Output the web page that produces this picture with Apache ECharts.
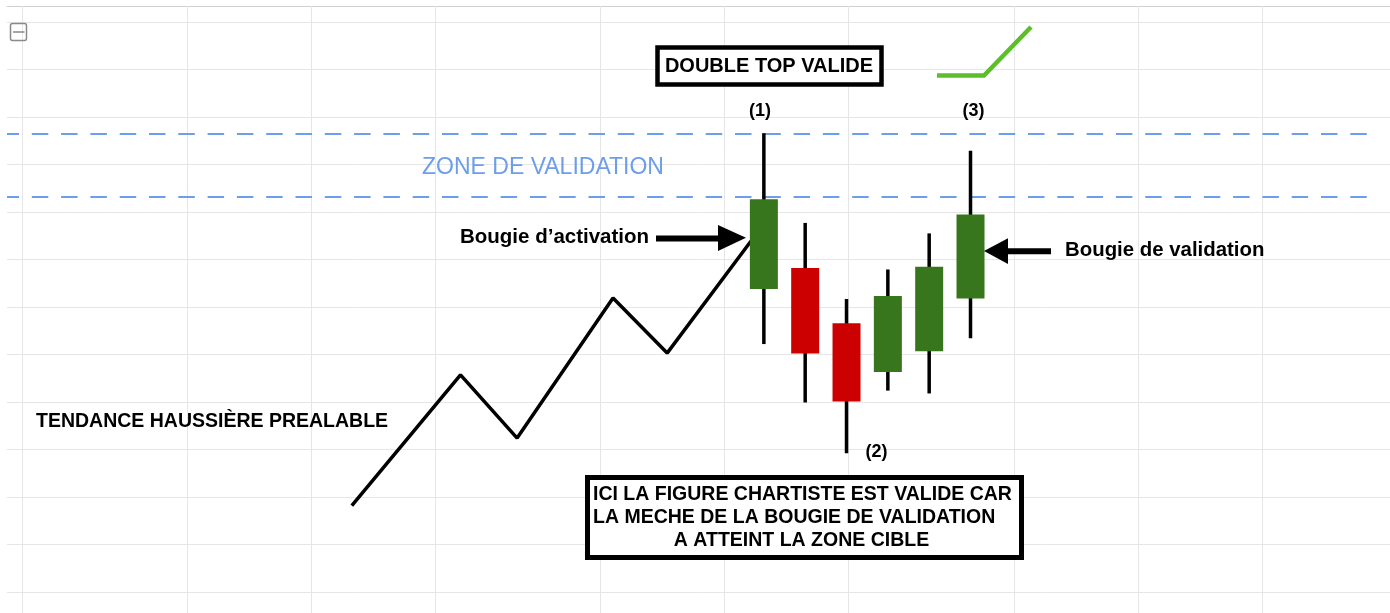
<!DOCTYPE html>
<html>
<head>
<meta charset="utf-8">
<title>Double top valide</title>
<script src="https://cdn.jsdelivr.net/npm/echarts@6/dist/echarts.min.js"></script>
<style>
  html, body { margin: 0; padding: 0; background: #fff; }
  #main { width: 1390px; height: 613px; }
</style>
</head>
<body>
<div id="main"></div>
<script>
// positions des bougies (unite = une colonne de bougie)
var candleX = [17.95, 18.95, 19.95, 20.95, 21.95, 22.95];
// [ouverture, cloture, plus bas, plus haut]
var candleOpen  = [7.38, 7.82, 6.66, 5.63, 6.07, 7.18];
var candleClose = [9.27, 6.02, 5.01, 7.23, 7.85, 8.95];
var candleLow   = [6.22, 4.99, 3.92, 5.24, 5.18, 6.34];
var candleHigh  = [10.66, 8.77, 7.17, 7.79, 8.55, 10.29];

// tendance haussiere prealable (zigzag)
var trendX = [7.98, 10.61, 11.98, 14.30, 15.61, 17.64];
var trendY = [2.82, 5.57, 4.24, 7.19, 6.03, 8.39];

// zone de validation
var zoneLevels = [10.64, 9.32];
var zoneEndX = 32.74;

// colonnes du quadrillage (largeurs irregulieres)
var gridColumns = [0, 4, 7, 10, 14, 17, 20, 24, 27, 30];

var X_MIN = -0.363, X_MAX = 33.1;
var Y_MIN = 0.558, Y_MAX = 13.337;

var GREEN = '#38761d', RED = '#cc0000', BLUE = '#6d9eeb';
var FONT = '"Liberation Sans", Arial, Helvetica, sans-serif';

var candleData = candleX.map(function (x, i) {
	return [x, candleOpen[i], candleClose[i], candleLow[i], candleHigh[i]];
});
var trendData = trendX.map(function (x, i) { return [x, trendY[i]]; });

function renderCandle(params, api) {
	var x = api.value(0);
	var open = api.value(1), close = api.value(2);
	var pHigh = api.coord([x, api.value(4)]);
	var pLow = api.coord([x, api.value(3)]);
	var pOpen = api.coord([x, open]);
	var pClose = api.coord([x, close]);
	var w = 28;
	return {
		type: 'group',
		children: [{
			type: 'line',
			shape: { x1: pHigh[0], y1: pHigh[1], x2: pLow[0], y2: pLow[1] },
			style: { stroke: '#000', lineWidth: 3.5 }
		}, {
			type: 'rect',
			shape: { x: pOpen[0] - w / 2, y: Math.min(pOpen[1], pClose[1]), width: w, height: Math.abs(pOpen[1] - pClose[1]) },
			style: { fill: close > open ? GREEN : RED }
		}]
	};
}

function txt(text, x, y, size, opts) {
	opts = opts || {};
	return {
		type: 'text', x: x, y: y, z: 100,
		style: {
			text: text,
			font: (opts.weight || 'bold') + ' ' + size + 'px ' + FONT,
			fill: opts.color || '#000',
			align: opts.align || 'center',
			verticalAlign: 'middle'
		}
	};
}

var myChart = echarts.init(document.getElementById('main'));
var option = {
	animation: false,
	grid: { left: 7, right: 0, top: 6, bottom: 0 },
	xAxis: {
		type: 'value', position: 'top', min: X_MIN, max: X_MAX,
		axisLine: { show: true, lineStyle: { color: '#cfcfcf', width: 1 } },
		axisTick: { show: false }, axisLabel: { show: false },
		splitLine: { show: false }
	},
	yAxis: {
		// pas de 1 obtenu via splitNumber (min non entier)
		type: 'value', min: Y_MIN, max: Y_MAX, splitNumber: 13,
		axisLine: { show: false }, axisTick: { show: false }, axisLabel: { show: false },
		splitLine: { lineStyle: { color: '#e6e6e6', width: 1 } }
	},
	series: [{
		// quadrillage vertical + zone de validation
		type: 'line', data: [], z: 1, silent: true,
		markLine: {
			silent: true, symbol: 'none', label: { show: false },
			animation: false, z: 1,
			data: gridColumns.map(function (c) {
				return { xAxis: c, lineStyle: { color: '#e6e6e6', width: 1, type: 'solid' } };
			}).concat(zoneLevels.map(function (v) {
				return [
					{ coord: [X_MIN, v], lineStyle: { color: BLUE, width: 2, type: [16.5, 12.8], dashOffset: 4.5 } },
					{ coord: [zoneEndX, v] }
				];
			}))
		}
	}, {
		name: 'tendance',
		type: 'line', data: trendData, z: 3,
		symbol: 'none',
		lineStyle: { color: '#000', width: 3.5 }
	}, {
		name: 'bougies',
		type: 'custom', z: 4,
		renderItem: renderCandle,
		encode: { x: 0, y: [1, 2, 3, 4] },
		data: candleData
	}],
	graphic: [
		// icone
		{ type: 'rect', z: 100, shape: { x: 10.5, y: 23.5, width: 16, height: 17, r: 2 }, style: { fill: 'none', stroke: '#8a8a8a', lineWidth: 1.5 } },
		{ type: 'line', z: 100, shape: { x1: 13, y1: 32, x2: 24.5, y2: 32 }, style: { stroke: '#8a8a8a', lineWidth: 1.5 } },
		// titre
		{ type: 'rect', z: 100, shape: { x: 657.5, y: 47.5, width: 224, height: 37 }, style: { fill: '#fff', stroke: '#000', lineWidth: 4.5 } },
		txt('DOUBLE TOP VALIDE', 769, 66.5, 20),
		// coche verte
		{ type: 'polyline', z: 100, shape: { points: [[937, 75.5], [984, 75.5], [1031, 27]] }, style: { fill: 'none', stroke: '#5cbf2a', lineWidth: 4.5 } },
		txt('(1)', 760, 111, 18),
		txt('(3)', 973.5, 111, 18),
		txt('(2)', 876.5, 452, 18),
		txt('ZONE DE VALIDATION', 543, 168, 23, { weight: 'normal', color: BLUE }),
		// fleche bougie d'activation
		txt('Bougie d\u2019activation', 460, 237, 20.5, { align: 'left' }),
		{ type: 'rect', z: 100, shape: { x: 656, y: 235.5, width: 64, height: 6 }, style: { fill: '#000' } },
		{ type: 'polygon', z: 100, shape: { points: [[718, 225], [746, 237.8], [718, 251]] }, style: { fill: '#000' } },
		// fleche bougie de validation
		txt('Bougie de validation', 1065, 250.5, 20.4, { align: 'left' }),
		{ type: 'rect', z: 100, shape: { x: 1006, y: 248.2, width: 45, height: 6 }, style: { fill: '#000' } },
		{ type: 'polygon', z: 100, shape: { points: [[1008, 238.3], [984, 251], [1008, 264]] }, style: { fill: '#000' } },
		txt('TENDANCE HAUSSI\u00c8RE PREALABLE', 36, 422, 19.5, { align: 'left' }),
		// encadre explicatif
		{ type: 'rect', z: 100, shape: { x: 587.5, y: 477.5, width: 434, height: 80 }, style: { fill: '#fff', stroke: '#000', lineWidth: 5 } },
		txt('ICI LA FIGURE CHARTISTE EST VALIDE CAR', 593, 495, 19.5, { align: 'left' }),
		txt('LA MECHE DE LA BOUGIE DE VALIDATION', 593, 517.7, 19.5, { align: 'left' }),
		txt('A ATTEINT LA ZONE CIBLE', 801.5, 540.3, 19.5)
	]
};
myChart.setOption(option);
</script>
</body>
</html>
